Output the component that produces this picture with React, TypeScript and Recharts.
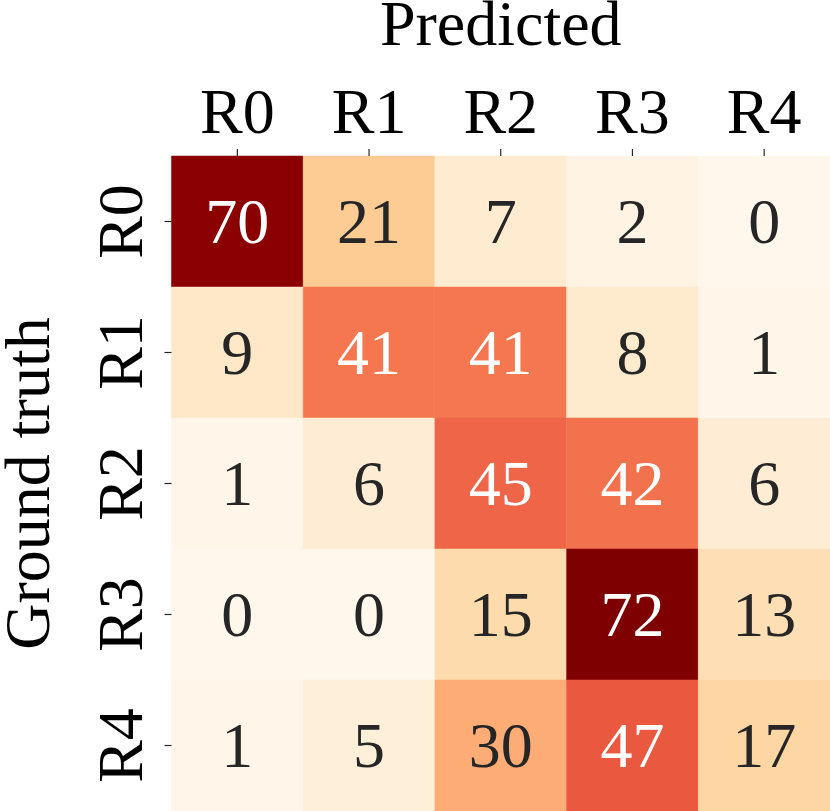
import React from 'react';
import { BarChart, Bar, XAxis, YAxis, Cell, LabelList } from 'recharts';

// ── data ─────────────────────────────────────────────
const PRED_LABELS = ['R0', 'R1', 'R2', 'R3', 'R4'];
const TRUE_LABELS = ['R0', 'R1', 'R2', 'R3', 'R4'];
const ROW_R0 = [70, 21, 7, 2, 0];
const ROW_R1 = [9, 41, 41, 8, 1];
const ROW_R2 = [1, 6, 45, 42, 6];
const ROW_R3 = [0, 0, 15, 72, 13];
const ROW_R4 = [1, 5, 30, 47, 17];
const MATRIX = [ROW_R0, ROW_R1, ROW_R2, ROW_R3, ROW_R4];

const VMAX = Math.max(...MATRIX.flat());
const FONT = '"Liberation Serif", "Times New Roman", serif';

// OrRd (matplotlib)
const OR_RD = ['#fff7ec', '#fee8c8', '#fdd49e', '#fdbb84', '#fc8d59', '#ef6548', '#d7301f', '#b30000', '#7f0000'];
const hexRgb = (h: string) => [1, 3, 5].map(i => parseInt(h.slice(i, i + 2), 16));
function orRd(t: number): number[] {
  const v = Math.min(1, Math.max(0, t)) * (OR_RD.length - 1);
  const i = Math.min(OR_RD.length - 2, Math.floor(v));
  const f = v - i;
  const a = hexRgb(OR_RD[i]), b = hexRgb(OR_RD[i + 1]);
  return a.map((x, k) => Math.round(x + (b[k] - x) * f));
}
const rgbStr = (c: number[]) => `rgb(${c[0]},${c[1]},${c[2]})`;
function textColor(c: number[]) {
  const lin = c.map(x => { const s = x / 255; return s <= 0.03928 ? s / 12.92 : Math.pow((s + 0.055) / 1.055, 2.4); });
  const lum = 0.2126 * lin[0] + 0.7152 * lin[1] + 0.0722 * lin[2];
  return lum > 0.408 ? '#262626' : '#ffffff';
}

// table for recharts: one row per ground-truth class, one stacked segment per prediction
const tableData = TRUE_LABELS.map((name, i) => {
  const row: Record<string, number | string> = { name };
  PRED_LABELS.forEach((_, j) => { row[`w${j}`] = 1; row[`v${j}`] = MATRIX[i][j]; });
  return row;
});

// ── ticks / labels ───────────────────────────────────
function TopTick({ x, y, payload }: any) {
  return (
    <text x={x} y={y - 14} textAnchor="middle" fontFamily={FONT} fontSize={64} fill="#000">
      {PRED_LABELS[Math.floor(payload.value)]}
    </text>
  );
}

function LeftTick({ x, y, payload }: any) {
  const bx = x - 20.5;
  return (
    <text x={bx} y={y} transform={`rotate(-90, ${bx}, ${y})`} textAnchor="middle" fontFamily={FONT} fontSize={64} fill="#000">
      {payload.value}
    </text>
  );
}

function TopTitle({ viewBox }: any) {
  const { x, width } = viewBox;
  return (
    <text x={x + width / 2} y={45} textAnchor="middle" fontFamily={FONT} fontSize={64} fill="#000">Predicted</text>
  );
}

function LeftTitle({ viewBox }: any) {
  const { y, height } = viewBox;
  const cy = y + height / 2;
  return (
    <text x={49} y={cy} transform={`rotate(-90, 49, ${cy})`} textAnchor="middle" fontFamily={FONT} fontSize={64} fill="#000">Ground truth</text>
  );
}

function CellLabel({ x, y, width, height, value }: any) {
  const fg = textColor(orRd(value / VMAX));
  return (
    <text x={x + width / 2} y={y + height / 2} textAnchor="middle" dominantBaseline="central" fontFamily={FONT} fontSize={64} fill={fg}>
      {value}
    </text>
  );
}

export default function App() {
  return (
    <div style={{ position: 'absolute', left: 0, top: 0 }}>
      <BarChart
        width={830}
        height={811}
        data={tableData}
        layout="vertical"
        margin={{ top: 0, right: 0, bottom: 0, left: 0 }}
        barCategoryGap={0}
        barGap={0}
      >
        <XAxis
          xAxisId={0}
          type="number"
          orientation="top"
          domain={[0, PRED_LABELS.length]}
          ticks={PRED_LABELS.map((_, j) => j + 0.5)}
          height={156}
          axisLine={false}
          tickSize={7}
          tickLine={{ stroke: '#262626', strokeWidth: 1.2 }}
          tick={<TopTick />}
          interval={0}
          label={<TopTitle />}
        />
        <YAxis
          type="category"
          dataKey="name"
          width={171.5}
          axisLine={false}
          tickSize={7}
          tickLine={{ stroke: '#262626', strokeWidth: 1.2 }}
          tick={<LeftTick />}
          interval={0}
          label={<LeftTitle />}
        />
        {PRED_LABELS.map((_, j) => (
          <Bar key={j} dataKey={`w${j}`} stackId="m" isAnimationActive={false}>
            {MATRIX.map((row, i) => (
              <Cell key={i} fill={rgbStr(orRd(row[j] / VMAX))} stroke={rgbStr(orRd(row[j] / VMAX))} strokeWidth={0.5} />
            ))}
            <LabelList dataKey={`v${j}`} content={<CellLabel />} />
          </Bar>
        ))}
      </BarChart>
    </div>
  );
}
